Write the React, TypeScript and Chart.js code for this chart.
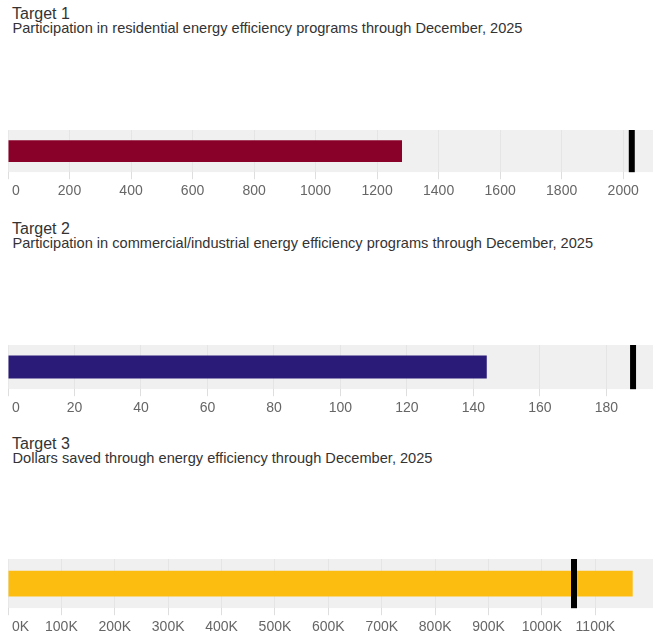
import React, { useEffect, useRef } from "react";
import Chart from "chart.js/auto";

// ---- data ----
const titles = ["Target 1", "Target 2", "Target 3"];
const subtitles = [
  "Participation in residential energy efficiency programs through December, 2025",
  "Participation in commercial/industrial energy efficiency programs through December, 2025",
  "Dollars saved through energy efficiency through December, 2025",
];
const actualValues = [1281, 144, 1170000];
const targetValues = [2028, 188, 1060000];
const rangeMax = [2097, 194, 1208000];
const ticks1 = [0, 200, 400, 600, 800, 1000, 1200, 1400, 1600, 1800, 2000];
const ticks2 = [0, 20, 40, 60, 80, 100, 120, 140, 160, 180];
const ticks3 = [0, 100000, 200000, 300000, 400000, 500000, 600000, 700000, 800000, 900000, 1000000, 1100000];
const tickSets = [ticks1, ticks2, ticks3];
const useK = [false, false, true];
const barColors = ["#890028", "#2a1b78", "#fdbd10"];

// ---- layout (styles only) ----
const panelTops = [0, 215, 430];
const canvasTops = [120, 335, 549];
const canvasHeights = [84, 86, 91];

const FONT = "'Liberation Sans', Arial, sans-serif";

function fmt(v: number, k: boolean) {
  return k ? `${Math.round(v / 1000)}K` : `${v}`;
}

function Bullet({ idx }: { idx: number }) {
  const ref = useRef<HTMLCanvasElement | null>(null);
  useEffect(() => {
    if (!ref.current) return;
    const max = rangeMax[idx];
    const tickVals = tickSets[idx];
    const chart = new Chart(ref.current, {
      type: "bar",
      data: {
        labels: [titles[idx]],
        datasets: [
          {
            type: "line",
            indexAxis: "y",
            data: [targetValues[idx]],
            showLine: false,
            pointStyle: "line",
            rotation: 90,
            radius: (c: any) => {
              const a = c.chart.chartArea;
              return a ? (a.bottom - a.top) / 2 : 20;
            },
            hoverRadius: 0,
            borderWidth: 6,
            pointBorderWidth: 6,
            borderColor: "#000000",
            pointBorderColor: "#000000",
            backgroundColor: "#000000",
            order: 1,
            clip: false,
          } as any,
          {
            indexAxis: "y",
            data: [actualValues[idx]],
            backgroundColor: barColors[idx],
            barPercentage: 0.52,
            categoryPercentage: 1,
            grouped: false,
            order: 2,
          } as any,
          {
            indexAxis: "y",
            data: [max],
            backgroundColor: "rgba(0,0,0,0.06)",
            barPercentage: 1,
            categoryPercentage: 1,
            grouped: false,
            order: 3,
          } as any,
        ],
      },
      options: {
        indexAxis: "y",
        animation: false,
        responsive: false,
        events: [],
        layout: { autoPadding: false, padding: { left: 8, right: 0, top: 10, bottom: 0 } },
        plugins: { legend: { display: false }, tooltip: { enabled: false }, title: { display: false } },
        scales: {
          y: { type: "category", display: false },
          x: {
            type: "linear",
            min: 0,
            max: max,
            afterBuildTicks: (scale: any) => {
              scale.ticks = [...tickVals.map((v) => ({ value: v })), { value: max }];
            },
            afterFit: (scale: any) => {
              scale.paddingLeft = 0;
              scale.paddingRight = 0;
            },
            border: { display: false },
            grid: {
              color: (c: any) => (c.tick && c.tick.value === max ? "rgba(0,0,0,0)" : "#f4f4f4"),
              tickColor: (c: any) => (c.tick && c.tick.value === max ? "rgba(0,0,0,0)" : "#dedede"),
              tickLength: 7,
            },
            ticks: {
              autoSkip: false,
              maxRotation: 0,
              align: "inner",
              color: "#666666",
              font: { family: FONT, size: 14 },
              padding: 4,
              callback: (v: any, i: number) => {
                const n = Number(v);
                if (n === max) return "";
                const s = fmt(n, useK[idx]);
                return i === 0 ? " " + s : s;
              },
            },
          },
        },
      } as any,
    });
    return () => chart.destroy();
  }, [idx]);
  return (
    <canvas
      ref={ref}
      width={653}
      height={canvasHeights[idx]}
      style={{ position: "absolute", left: 0, top: canvasTops[idx], width: 653, height: canvasHeights[idx] }}
    />
  );
}

export default function App() {
  useEffect(() => {
    document.body.style.margin = "0";
    document.body.style.overflow = "hidden";
  }, []);
  return (
    <div style={{ position: "relative", width: 653, height: 633, overflow: "hidden", background: "#fff", fontFamily: FONT }}>
      {[0, 1, 2].map((i) => (
        <React.Fragment key={i}>
          <div
            style={{
              position: "absolute",
              left: 12,
              top: panelTops[i] + 4.5,
              fontSize: 16,
              lineHeight: "18px",
              color: "#333",
              whiteSpace: "pre",
            }}
          >
            {titles[i]}
          </div>
          <div
            style={{
              position: "absolute",
              left: 12.5,
              top: panelTops[i] + 20.4,
              fontSize: 14.6,
              lineHeight: "16px",
              color: "#333",
              whiteSpace: "pre",
            }}
          >
            {subtitles[i]}
          </div>
          <Bullet idx={i} />
        </React.Fragment>
      ))}
    </div>
  );
}
